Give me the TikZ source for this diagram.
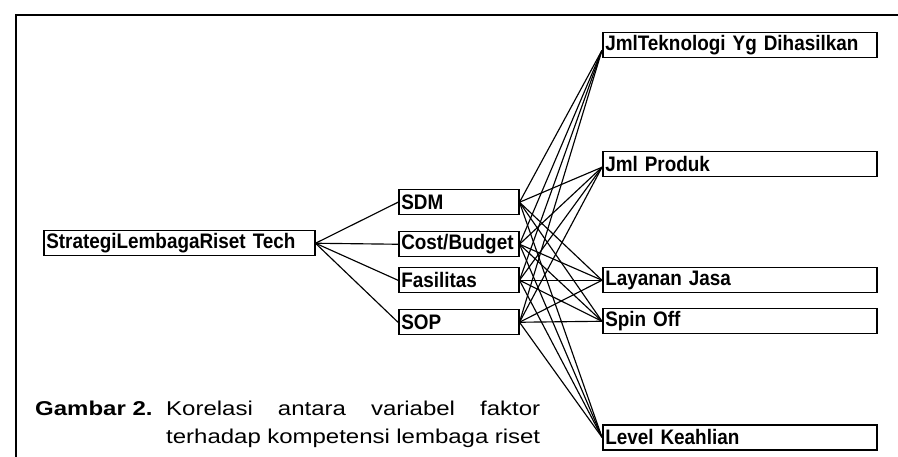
\documentclass[tikz,border=0pt]{standalone}
\usepackage{fontspec}
\newfontfamily\boxfont[FakeStretch=0.9]{Liberation Sans}
\newfontfamily\capfont[FakeStretch=1.2]{Liberation Sans}
\begin{document}
\begin{tikzpicture}[x=1pt,y=-1pt,
  box/.style={draw, line width=1.5pt, anchor=north west, inner xsep=2.5pt, inner ysep=0pt,
    align=left, minimum height=25pt, font=\boxfont\bfseries\fontsize{21}{21}\selectfont},
  midbox/.style={box, text width=115pt},
  outbox/.style={box, text width=269pt},
  link/.style={line width=1.15pt},
  captext/.style={anchor=base west, inner sep=0pt, font=\capfont\fontsize{20}{22}\selectfont}]
\useasboundingbox (0,0) rectangle (898,457);
% frame
\draw[line width=2pt] (16,457) -- (16,15) -- (898,15);
% nodes
\node[box, text width=266pt] (strat) at (43,230) {StrategiLembagaRiset Tech};
\node[midbox] (sdm)  at (398,189) {SDM};
\node[midbox] (cost) at (398,231) {Cost/Budget};
\node[midbox] (fas)  at (398,267) {Fasilitas};
\node[midbox] (sop)  at (398,309) {SOP};
\node[outbox] (tek)  at (602,32)  {JmlTeknologi Yg Dihasilkan};
\node[outbox] (prod) at (602,151) {Jml Produk};
\node[outbox] (lay)  at (602,267) {Layanan Jasa};
\node[outbox] (spin) at (602,308) {Spin Off};
\node[outbox] (lev)  at (602,424) {Level Keahlian};
\coordinate (tekin) at ([yshift=-5pt]tek.west);
\coordinate (prodin) at ([yshift=-3pt]prod.west);
\coordinate (layin) at (lay.west);
\coordinate (spinin) at (spin.west);
\coordinate (levin) at (lev.west);
% connectors
\foreach \m in {sdm,cost,fas,sop}
  \draw[link] (strat.east) -- (\m.west);
\foreach \m in {sdm,cost,fas,sop}
  \foreach \r in {tekin,prodin,layin,spinin,levin}
    \draw[link] (\m.east) -- (\r);
% caption
\node[captext, font=\capfont\bfseries\fontsize{20}{22}\selectfont] (fig) at (35,416) {Gambar 2.};
\node[captext] (cap1) at (166,416) {\makebox[374pt][s]{Korelasi antara variabel faktor}};
\node[captext] (cap2) at (166,443) {\makebox[374pt][s]{terhadap kompetensi lembaga riset}};
\end{tikzpicture}
\end{document}
